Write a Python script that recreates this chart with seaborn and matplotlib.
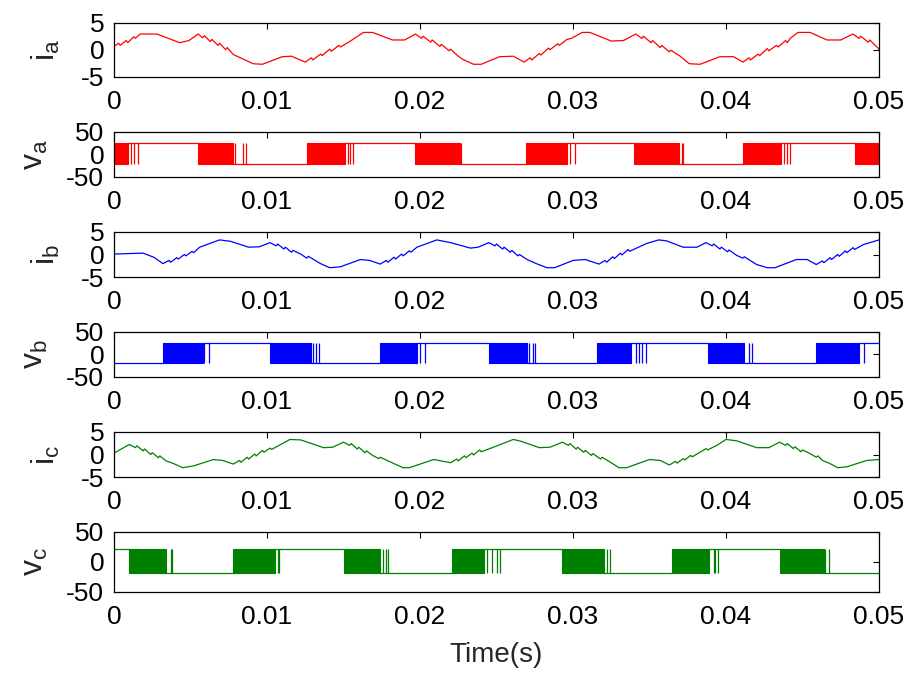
import matplotlib
matplotlib.use("Agg")
import matplotlib.pyplot as plt
import seaborn as sns
import pandas as pd

# ---------------- data ----------------
x_ticks = [0, 0.01, 0.02, 0.03, 0.04, 0.05]
x_ticklabels = ["0", "0.01", "0.02", "0.03", "0.04", "0.05"]
i_ticks = [-5, 0, 5]
v_ticks = [-50, 0, 50]

t_ia = [0.0000, 0.0003, 0.0004, 0.0008, 0.0009, 0.0013, 0.0014, 0.0017, 0.0028, 0.0043,
        0.0049, 0.0055, 0.0058, 0.0059, 0.0063, 0.0064, 0.0068, 0.0069, 0.0073, 0.0074,
        0.0078, 0.0091, 0.0097, 0.0110, 0.0116, 0.0125, 0.0129, 0.0130, 0.0135, 0.0136,
        0.0141, 0.0142, 0.0147, 0.0148, 0.0154, 0.0163, 0.0169, 0.0182, 0.0190, 0.0197,
        0.0201, 0.0202, 0.0207, 0.0208, 0.0213, 0.0214, 0.0219, 0.0220, 0.0225, 0.0228,
        0.0235, 0.0240, 0.0252, 0.0261, 0.0268, 0.0272, 0.0273, 0.0278, 0.0279, 0.0284,
        0.0285, 0.0290, 0.0291, 0.0296, 0.0299, 0.0306, 0.0311, 0.0325, 0.0333, 0.0341,
        0.0345, 0.0346, 0.0351, 0.0352, 0.0357, 0.0358, 0.0363, 0.0364, 0.0370, 0.0376,
        0.0383, 0.0396, 0.0405, 0.0411, 0.0415, 0.0416, 0.0421, 0.0422, 0.0427, 0.0428,
        0.0433, 0.0434, 0.0439, 0.0440, 0.0442, 0.0447, 0.0455, 0.0466, 0.0475, 0.0483,
        0.0487, 0.0488, 0.0493, 0.0494, 0.0499, 0.0500]
ia = [0.6, 1.2, 0.8, 1.7, 1.3, 2.4, 2.1, 2.9, 2.9, 1.3,
      1.7, 2.9, 2.2, 2.6, 1.5, 1.9, 0.8, 1.2, 0.0, 0.4,
      -0.9, -2.6, -2.7, -1.3, -1.2, -2.3, -1.5, -1.9, -0.8, -1.1,
      0.1, -0.3, 0.8, 0.5, 1.5, 3.2, 3.2, 1.8, 1.8, 2.9,
      2.1, 2.5, 1.4, 1.8, 0.6, 1.0, -0.2, 0.1, -1.2, -1.8,
      -2.7, -2.7, -1.3, -1.2, -2.3, -1.5, -1.9, -0.7, -1.0, 0.3,
      0.0, 1.1, 0.8, 1.9, 2.1, 3.2, 3.2, 1.6, 1.7, 2.9,
      2.1, 2.5, 1.3, 1.7, 0.4, 0.8, -0.4, -0.1, -1.2, -2.6,
      -2.7, -1.3, -1.3, -2.3, -1.5, -1.9, -0.8, -1.1, 0.2, -0.2,
      0.8, 0.5, 1.7, 1.3, 2.1, 3.2, 3.2, 1.8, 1.8, 2.9,
      2.1, 2.5, 1.4, 1.8, 0.4, 0.1]

t_ib = [0.0000, 0.0019, 0.0026, 0.0032, 0.0036, 0.0037, 0.0041, 0.0042, 0.0046, 0.0047,
        0.0051, 0.0052, 0.0056, 0.0069, 0.0076, 0.0088, 0.0095, 0.0102, 0.0106, 0.0107,
        0.0111, 0.0112, 0.0116, 0.0117, 0.0122, 0.0126, 0.0127, 0.0135, 0.0141, 0.0148,
        0.0161, 0.0167, 0.0174, 0.0178, 0.0179, 0.0183, 0.0184, 0.0188, 0.0189, 0.0193,
        0.0194, 0.0198, 0.0211, 0.0220, 0.0233, 0.0238, 0.0245, 0.0249, 0.0250, 0.0254,
        0.0255, 0.0259, 0.0260, 0.0264, 0.0265, 0.0270, 0.0276, 0.0283, 0.0288, 0.0300,
        0.0308, 0.0317, 0.0321, 0.0322, 0.0326, 0.0327, 0.0331, 0.0332, 0.0336, 0.0337,
        0.0348, 0.0356, 0.0361, 0.0372, 0.0381, 0.0387, 0.0391, 0.0392, 0.0396, 0.0397,
        0.0401, 0.0402, 0.0407, 0.0411, 0.0412, 0.0420, 0.0427, 0.0432, 0.0446, 0.0453,
        0.0459, 0.0463, 0.0464, 0.0468, 0.0469, 0.0473, 0.0474, 0.0478, 0.0479, 0.0483,
        0.0484, 0.0490, 0.0500]
ib = [0.1, 0.3, -0.6, -2.0, -1.3, -1.7, -0.7, -1.0, 0.0, -0.3,
      0.7, 0.4, 1.6, 3.2, 2.9, 1.6, 1.7, 2.6, 1.9, 2.3,
      1.2, 1.6, 0.5, 0.9, 0.1, -0.8, -0.4, -2.0, -2.9, -2.7,
      -1.1, -1.3, -2.1, -1.3, -1.7, -0.6, -1.0, 0.1, -0.3, 0.8,
      0.5, 1.6, 3.2, 2.6, 1.4, 1.6, 2.6, 1.9, 2.3, 1.2,
      1.6, 0.5, 0.9, -0.3, 0.0, -1.1, -2.0, -2.9, -2.9, -1.3,
      -1.1, -2.1, -1.3, -1.7, -0.5, -0.9, 0.3, -0.1, 1.1, 0.7,
      2.4, 3.2, 3.0, 1.6, 1.6, 2.6, 1.9, 2.3, 1.2, 1.6,
      0.6, 1.0, -0.2, -0.8, -0.5, -2.2, -2.9, -2.9, -1.1, -1.1,
      -2.2, -1.4, -1.8, -0.7, -1.1, 0.0, -0.4, 0.8, 0.4, 1.5,
      1.1, 2.2, 3.2]

t_ic = [0.0000, 0.0010, 0.0014, 0.0015, 0.0019, 0.0020, 0.0024, 0.0025, 0.0029, 0.0030,
        0.0034, 0.0039, 0.0045, 0.0052, 0.0065, 0.0071, 0.0078, 0.0082, 0.0083, 0.0087,
        0.0088, 0.0092, 0.0093, 0.0097, 0.0098, 0.0102, 0.0103, 0.0115, 0.0122, 0.0137,
        0.0143, 0.0150, 0.0154, 0.0155, 0.0159, 0.0160, 0.0164, 0.0165, 0.0169, 0.0173,
        0.0174, 0.0183, 0.0189, 0.0193, 0.0209, 0.0220, 0.0224, 0.0225, 0.0229, 0.0230,
        0.0234, 0.0235, 0.0239, 0.0240, 0.0248, 0.0261, 0.0266, 0.0278, 0.0285, 0.0293,
        0.0297, 0.0298, 0.0302, 0.0303, 0.0307, 0.0308, 0.0312, 0.0313, 0.0318, 0.0319,
        0.0324, 0.0330, 0.0335, 0.0350, 0.0357, 0.0363, 0.0367, 0.0368, 0.0372, 0.0373,
        0.0377, 0.0378, 0.0383, 0.0387, 0.0388, 0.0394, 0.0400, 0.0407, 0.0420, 0.0428,
        0.0435, 0.0439, 0.0440, 0.0444, 0.0445, 0.0449, 0.0450, 0.0455, 0.0459, 0.0460,
        0.0463, 0.0468, 0.0473, 0.0479, 0.0492, 0.0500]
ic = [0.3, 2.2, 1.5, 1.9, 0.8, 1.2, 0.0, 0.4, -0.7, -0.3,
      -1.4, -2.0, -2.9, -2.5, -1.1, -1.3, -2.1, -1.3, -1.7, -0.6,
      -1.0, 0.1, -0.3, 0.9, 0.5, 1.4, 1.1, 3.3, 3.2, 1.5,
      1.6, 2.7, 2.0, 2.4, 1.2, 1.6, 0.4, 0.8, -0.2, -0.9,
      -0.6, -2.0, -2.9, -2.9, -1.1, -1.8, -1.0, -1.4, -0.3, -0.7,
      0.3, -0.1, 1.0, 0.6, 1.6, 3.3, 2.9, 1.5, 1.6, 2.7,
      2.0, 2.4, 1.2, 1.6, 0.5, 0.9, -0.2, 0.2, -1.0, -0.6,
      -1.6, -2.9, -2.9, -1.1, -1.3, -2.3, -1.5, -1.9, -0.9, -1.2,
      -0.2, -0.5, 0.5, 1.3, 1.0, 2.0, 3.3, 3.0, 1.5, 1.5,
      2.7, 2.0, 2.4, 1.3, 1.7, 0.6, 1.0, 0.2, -0.6, -0.3,
      -1.3, -2.0, -2.9, -2.7, -1.3, -1.1]

# PWM phase voltages: dense switching bursts, steady segments, isolated pulses
va_high, va_low = 25, -22
va_burst_start = [0.0000, 0.0055, 0.0126, 0.0197, 0.0269, 0.0340, 0.0411, 0.0484]
va_burst_end = [0.0009, 0.0078, 0.0151, 0.0226, 0.0296, 0.0369, 0.0436, 0.0500]
va_seg_start = [0.0009, 0.0078, 0.0151, 0.0226, 0.0296, 0.0369, 0.0436]
va_seg_end = [0.0055, 0.0126, 0.0197, 0.0269, 0.0340, 0.0411, 0.0484]
va_seg_level = [25, -22, 25, -22, 25, -22, 25]
va_pulses = [0.0011, 0.0013, 0.0016, 0.0079, 0.0084, 0.0086, 0.0153, 0.0154, 0.0156,
             0.0227, 0.0298, 0.0301, 0.0371, 0.0372, 0.0438, 0.0440, 0.0442]

vb_high, vb_low = 24, -20
vb_burst_start = [0.0032, 0.0102, 0.0174, 0.0245, 0.0316, 0.0388, 0.0459]
vb_burst_end = [0.0058, 0.0129, 0.0198, 0.0270, 0.0338, 0.0412, 0.0487]
vb_seg_start = [0.0000, 0.0058, 0.0129, 0.0198, 0.0270, 0.0338, 0.0412, 0.0487]
vb_seg_end = [0.0032, 0.0102, 0.0174, 0.0245, 0.0316, 0.0388, 0.0459, 0.0500]
vb_seg_level = [-20, 24, -20, 24, -20, 24, -20, 24]
vb_pulses = [0.0059, 0.0062, 0.0130, 0.0132, 0.0134, 0.0200, 0.0203, 0.0271, 0.0274,
             0.0275, 0.0341, 0.0343, 0.0345, 0.0348, 0.0415, 0.0417, 0.0490]

vc_high, vc_low = 21, -19
vc_burst_start = [0.0010, 0.0078, 0.0150, 0.0221, 0.0293, 0.0365, 0.0435]
vc_burst_end = [0.0034, 0.0105, 0.0174, 0.0242, 0.0320, 0.0389, 0.0464]
vc_seg_start = [0.0000, 0.0034, 0.0105, 0.0174, 0.0242, 0.0320, 0.0389, 0.0464]
vc_seg_end = [0.0010, 0.0078, 0.0150, 0.0221, 0.0293, 0.0365, 0.0435, 0.0500]
vc_seg_level = [21, -19, 21, -19, 21, -19, 21, -19]
vc_pulses = [0.0037, 0.0038, 0.0107, 0.0108, 0.0176, 0.0178, 0.0179, 0.0244, 0.0247,
             0.0250, 0.0252, 0.0322, 0.0324, 0.0392, 0.0393, 0.0395, 0.0465, 0.0467]

# ---------------- style ----------------
sns.set_style("white")
plt.rcParams["font.family"] = ["Liberation Sans", "DejaVu Sans"]
plt.rcParams["mathtext.fontset"] = "custom"
plt.rcParams["mathtext.rm"] = "Liberation Sans"
plt.rcParams["mathtext.it"] = "Liberation Sans"

W, H = 907, 673
fig = plt.figure(figsize=(W / 100, H / 100), dpi=100)
fig.patch.set_facecolor("white")

# axes boxes in pixels: (top, bottom)
boxes = [(22.7, 76.7), (131.7, 176.7), (231.7, 277.3),
         (331.7, 376.7), (431.7, 477.3), (531.7, 591.7)]
left_px, right_px = 114, 879

RED, BLUE, GREEN = "#ff0000", "#0000ff", "#008000"
TICK_FS = 19
LABEL_FS = 23


def make_ax(k):
    top, bot = boxes[k]
    ax = fig.add_axes([left_px / W, 1 - bot / H, (right_px - left_px) / W, (bot - top) / H])
    ax.set_xlim(0, 0.05)
    ax.set_xticks(x_ticks)
    ax.set_xticklabels(x_ticklabels)
    ax.tick_params(axis="both", direction="in", top=True, right=True,
                   length=4.5, width=0.8, labelsize=TICK_FS, colors="black")
    ax.tick_params(axis="x", pad=9.5)
    ax.tick_params(axis="y", pad=7)
    for s in ax.spines.values():
        s.set_linewidth(0.9)
        s.set_color("black")
    return ax


def current_panel(k, t, y, color, label):
    ax = make_ax(k)
    df = pd.DataFrame({"t": t, "i": y})
    sns.lineplot(data=df, x="t", y="i", ax=ax, color=color, linewidth=0.9,
                 estimator=None, sort=False)
    ax.set_ylim(-5, 5)
    ax.set_yticks(i_ticks)
    ax.set_yticklabels([str(v) for v in i_ticks])
    ax.set_xlabel("")
    ax.set_ylabel(label, fontsize=LABEL_FS)
    ax.yaxis.set_label_coords(-0.068, 0.5)
    return ax


def voltage_panel(k, bs, be, ss, se, sl, pulses, hi, lo, color, label):
    ax = make_ax(k)
    for s, e in zip(bs, be):
        ax.fill_between([s, e], [lo, lo], [hi, hi], color=color, linewidth=0.8)
    rows = []
    for j, (s, e, lv) in enumerate(zip(ss, se, sl)):
        rows.append({"t": s, "v": lv, "g": j})
        rows.append({"t": e, "v": lv, "g": j})
    segs = pd.DataFrame(rows)
    sns.lineplot(data=segs, x="t", y="v", units="g", estimator=None, ax=ax,
                 color=color, linewidth=0.9, sort=False)
    ax.vlines(pulses, lo, hi, color=color, linewidth=0.9)
    ax.set_ylim(-50, 50)
    ax.set_yticks(v_ticks)
    ax.set_yticklabels([str(v) for v in v_ticks])
    ax.set_xlabel("")
    ax.set_ylabel(label, fontsize=LABEL_FS)
    ax.yaxis.set_label_coords(-0.084, 0.5)
    return ax


current_panel(0, t_ia, ia, RED, r"$\mathregular{i_a}$")
voltage_panel(1, va_burst_start, va_burst_end, va_seg_start, va_seg_end, va_seg_level,
              va_pulses, va_high, va_low, RED, r"$\mathregular{v_a}$")
current_panel(2, t_ib, ib, BLUE, r"$\mathregular{i_b}$")
voltage_panel(3, vb_burst_start, vb_burst_end, vb_seg_start, vb_seg_end, vb_seg_level,
              vb_pulses, vb_high, vb_low, BLUE, r"$\mathregular{v_b}$")
current_panel(4, t_ic, ic, GREEN, r"$\mathregular{i_c}$")
ax_last = voltage_panel(5, vc_burst_start, vc_burst_end, vc_seg_start, vc_seg_end,
                        vc_seg_level, vc_pulses, vc_high, vc_low, GREEN,
                        r"$\mathregular{v_c}$")
ax_last.set_xlabel("Time(s)", fontsize=TICK_FS + 1)
ax_last.xaxis.set_label_coords(0.5, -0.83)

fig.savefig("out.png", dpi=100, facecolor="white")
